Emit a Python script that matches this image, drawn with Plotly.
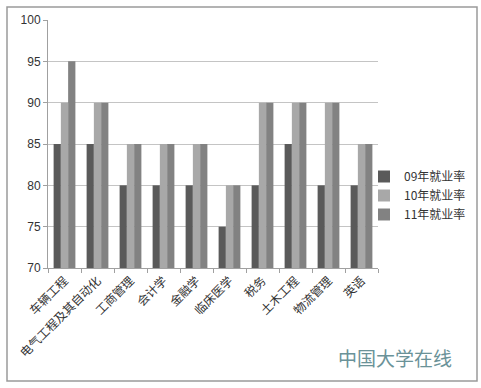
import plotly.graph_objects as go

categories = ["车辆工程", "电气工程及其自动化", "工商管理", "会计学", "金融学",
              "临床医学", "税务", "土木工程", "物流管理", "英语"]
series_names = ["09年就业率", "10年就业率", "11年就业率"]
rate_09 = [85, 85, 80, 80, 80, 75, 80, 85, 80, 80]
rate_10 = [90, 90, 85, 85, 85, 80, 90, 90, 90, 85]
rate_11 = [95, 90, 85, 85, 85, 80, 90, 90, 90, 85]
colors = ["#5a5a5a", "#a8a8a8", "#828282"]

fig = go.Figure()
for name, vals, c in zip(series_names, [rate_09, rate_10, rate_11], colors):
    fig.add_trace(go.Bar(x=categories, y=[v - 70 for v in vals], base=70, name=name,
                         marker=dict(color=c, line=dict(width=0))))

fig.update_layout(
    width=481, height=388,
    margin=dict(l=48, r=103, t=20, b=120, autoexpand=False),
    paper_bgcolor="white", plot_bgcolor="white",
    barmode="group", bargap=0.34, bargroupgap=0,
    font=dict(family="Noto Sans CJK SC, Arial", color="#333333"),
    showlegend=True,
    legend=dict(x=(364 - 48) / 330, y=(268 - 162) / 248, xanchor="left", yanchor="top",
                font=dict(size=12, color="#333333"), itemwidth=30,
                bgcolor="rgba(0,0,0,0)"),
    xaxis=dict(type="category", showline=True, linecolor="#a0a0a0", linewidth=1,
               ticks="outside", tickson="boundaries", ticklen=4, tickcolor="#a0a0a0",
               tickangle=-45, tickfont=dict(size=12, family="Noto Sans CJK SC", color="#333333"),
               showgrid=False),
    yaxis=dict(range=[70, 100], dtick=5, showline=True, linecolor="#a0a0a0", linewidth=1,
               ticks="outside", ticklen=4, tickcolor="#a0a0a0",
               gridcolor="#c4c4c4", gridwidth=1, zeroline=False,
               tickfont=dict(size=12, family="Arial", color="#333333")),
    shapes=[dict(type="rect", xref="paper", yref="paper",
                 x0=-41/330, x1=429/330, y0=-113/248, y1=261/248,
                 line=dict(color="#9a9a9a", width=1.5), fillcolor="rgba(0,0,0,0)", layer="below")],
    annotations=[dict(text="中国大学在线", xref="paper", yref="paper",
                      x=(395 - 48) / 330, y=(268 - 357) / 248, xanchor="center", yanchor="middle",
                      showarrow=False, font=dict(size=19, color="#6a9298", family="Noto Sans CJK SC"))],
)

fig.write_html("out.html")
